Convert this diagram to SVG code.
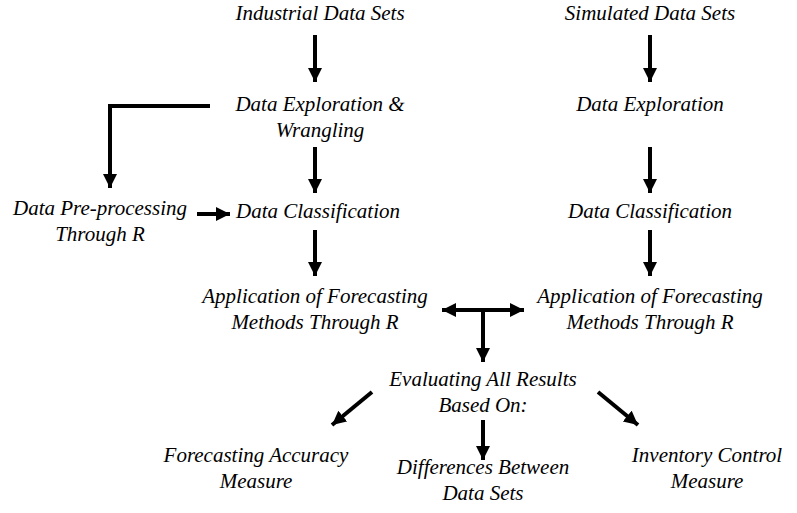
<svg xmlns="http://www.w3.org/2000/svg" width="797" height="513" viewBox="0 0 797 513">
<defs>
<marker id="ah" markerUnits="userSpaceOnUse" markerWidth="16" markerHeight="16" refX="14" refY="7" orient="auto-start-reverse" viewBox="0 0 16 16">
<path d="M0,0 L14,7 L0,14 Z" fill="#000"/>
</marker>
</defs>
<rect width="797" height="513" fill="#fff"/>
<g id="n1"><text font-family="Times New Roman" font-style="italic" font-size="21" text-anchor="middle" x="320" y="20">Industrial Data Sets</text></g>
<g id="n2"><text font-family="Times New Roman" font-style="italic" font-size="21" text-anchor="middle" x="650" y="20">Simulated Data Sets</text></g>
<g id="n3"><text font-family="Times New Roman" font-style="italic" font-size="21" text-anchor="middle" x="320" y="111">Data Exploration &amp;</text><text font-family="Times New Roman" font-style="italic" font-size="21" text-anchor="middle" x="320" y="137">Wrangling</text></g>
<g id="n4"><text font-family="Times New Roman" font-style="italic" font-size="21" text-anchor="middle" x="650" y="111">Data Exploration</text></g>
<g id="n5"><text font-family="Times New Roman" font-style="italic" font-size="21" text-anchor="middle" x="100" y="215">Data Pre-processing</text><text font-family="Times New Roman" font-style="italic" font-size="21" text-anchor="middle" x="100" y="241">Through R</text></g>
<g id="n6"><text font-family="Times New Roman" font-style="italic" font-size="21" text-anchor="middle" x="318" y="218">Data Classification</text></g>
<g id="n7"><text font-family="Times New Roman" font-style="italic" font-size="21" text-anchor="middle" x="650" y="218">Data Classification</text></g>
<g id="n8"><text font-family="Times New Roman" font-style="italic" font-size="21" text-anchor="middle" x="315" y="303">Application of Forecasting</text><text font-family="Times New Roman" font-style="italic" font-size="21" text-anchor="middle" x="315" y="329">Methods Through R</text></g>
<g id="n9"><text font-family="Times New Roman" font-style="italic" font-size="21" text-anchor="middle" x="650" y="303">Application of Forecasting</text><text font-family="Times New Roman" font-style="italic" font-size="21" text-anchor="middle" x="650" y="329">Methods Through R</text></g>
<g id="n10"><text font-family="Times New Roman" font-style="italic" font-size="21" text-anchor="middle" x="483" y="386">Evaluating All Results</text><text font-family="Times New Roman" font-style="italic" font-size="21" text-anchor="middle" x="483" y="412">Based On:</text></g>
<g id="n11"><text font-family="Times New Roman" font-style="italic" font-size="21" text-anchor="middle" x="256" y="462">Forecasting Accuracy</text><text font-family="Times New Roman" font-style="italic" font-size="21" text-anchor="middle" x="256" y="488">Measure</text></g>
<g id="n12"><text font-family="Times New Roman" font-style="italic" font-size="21" text-anchor="middle" x="483" y="474">Differences Between</text><text font-family="Times New Roman" font-style="italic" font-size="21" text-anchor="middle" x="483" y="500">Data Sets</text></g>
<g id="n13"><text font-family="Times New Roman" font-style="italic" font-size="21" text-anchor="middle" x="707" y="462">Inventory Control</text><text font-family="Times New Roman" font-style="italic" font-size="21" text-anchor="middle" x="707" y="488">Measure</text></g>
<g id="connectors" stroke="#000" stroke-width="4" fill="none">
<line x1="315" y1="35" x2="315" y2="82" marker-end="url(#ah)"/>
<line x1="650" y1="35" x2="650" y2="82" marker-end="url(#ah)"/>
<line x1="315" y1="147" x2="315" y2="193" marker-end="url(#ah)"/>
<line x1="650" y1="147" x2="650" y2="193" marker-end="url(#ah)"/>
<polyline points="210,106 110,106 110,188" marker-end="url(#ah)"/>
<line x1="197" y1="214" x2="230" y2="214" marker-end="url(#ah)"/>
<line x1="315" y1="230" x2="315" y2="276" marker-end="url(#ah)"/>
<line x1="650" y1="230" x2="650" y2="276" marker-end="url(#ah)"/>
<line x1="442" y1="310" x2="524" y2="310" marker-start="url(#ah)" marker-end="url(#ah)"/>
<line x1="483" y1="310" x2="483" y2="362" marker-end="url(#ah)"/>
<line x1="372" y1="392" x2="332" y2="425" marker-end="url(#ah)"/>
<line x1="598" y1="392" x2="638" y2="425" marker-end="url(#ah)"/>
<line x1="483" y1="420" x2="483" y2="460" marker-end="url(#ah)"/>
</g>
</svg>
